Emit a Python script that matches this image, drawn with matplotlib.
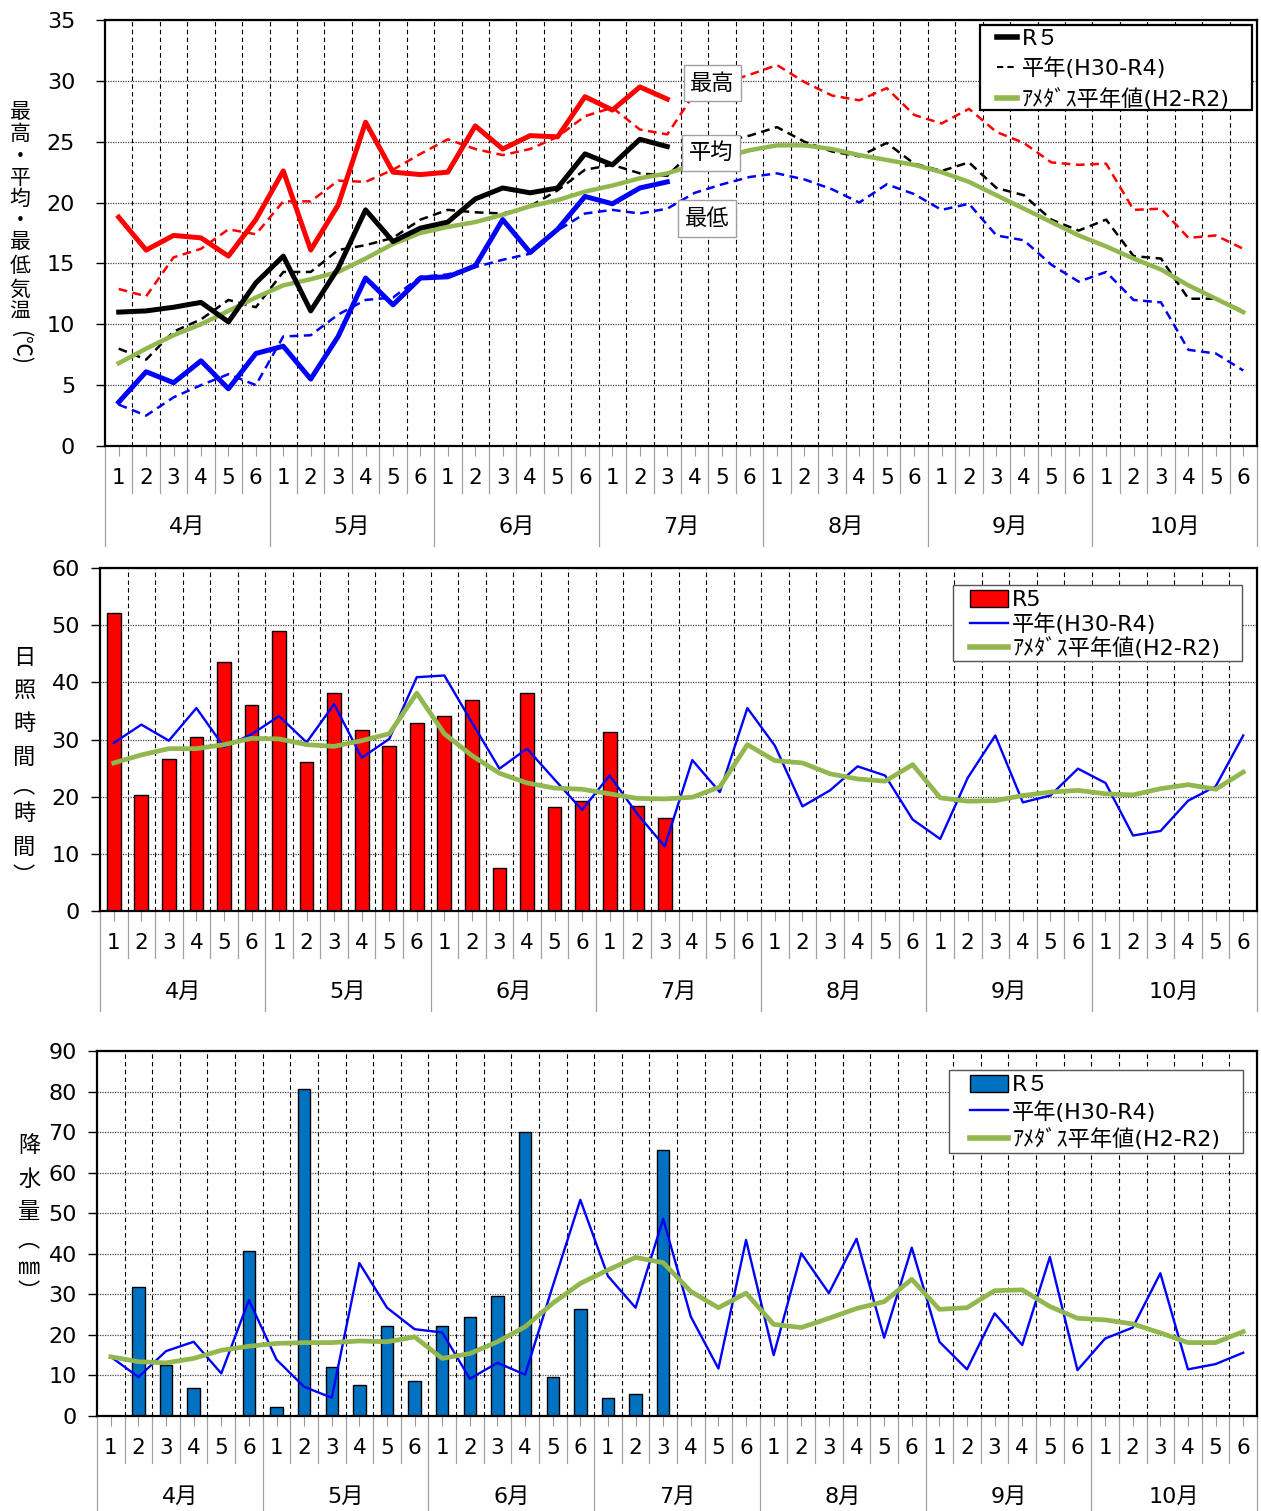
import matplotlib
matplotlib.use("Agg")

import matplotlib.pyplot as plt
import numpy as np
from matplotlib.lines import Line2D
from matplotlib.patches import Patch, Rectangle

plt.rcParams["font.family"] = ["DejaVu Sans", "Noto Sans CJK JP"]
JP = ["Noto Sans CJK JP", "DejaVu Sans"]

months = ["4月", "5月", "6月", "7月", "8月", "9月", "10月"]
pentads = ["1", "2", "3", "4", "5", "6"]

# temperature (℃)
temp_max_r5 = [18.8, 16.1, 17.3, 17.1, 15.6, 18.6, 22.6, 16.1, 19.8, 26.6, 22.5,
               22.3, 22.5, 26.3, 24.4, 25.5, 25.4, 28.7, 27.6, 29.5, 28.5]
temp_max_norm = [12.9, 12.3, 15.5, 16.2, 17.8, 17.4, 20.1, 20.1, 21.8, 21.7, 22.7,
                 24.0, 25.2, 24.4, 23.9, 24.4, 25.4, 27.1, 27.8, 26.0, 25.6, 29.0,
                 29.8, 30.5, 31.3, 29.9, 28.8, 28.4, 29.4, 27.2, 26.5, 27.7, 25.8,
                 24.9, 23.3, 23.1, 23.2, 19.4, 19.5, 17.1, 17.3, 16.2]
temp_mean_r5 = [11.0, 11.1, 11.4, 11.8, 10.2, 13.4, 15.6, 11.1, 14.6, 19.4, 16.8,
                17.9, 18.4, 20.3, 21.2, 20.8, 21.2, 24.0, 23.1, 25.2, 24.6]
temp_mean_norm = [8.0, 7.1, 9.4, 10.4, 12.0, 11.4, 14.3, 14.3, 16.1, 16.5, 17.1,
                  18.6, 19.4, 19.2, 19.1, 19.7, 21.0, 22.7, 23.1, 22.4, 22.2, 24.4,
                  25.0, 25.5, 26.2, 25.0, 24.2, 23.8, 24.9, 23.2, 22.6, 23.3, 21.2,
                  20.6, 18.6, 17.7, 18.6, 15.6, 15.4, 12.1, 12.1, 11.1]
temp_min_r5 = [3.6, 6.1, 5.2, 7.0, 4.7, 7.6, 8.2, 5.5, 9.0, 13.8, 11.6, 13.8, 13.9,
               14.8, 18.6, 15.9, 17.8, 20.5, 19.9, 21.2, 21.7]
temp_min_norm = [3.4, 2.5, 4.0, 5.0, 5.9, 5.0, 9.0, 9.1, 10.8, 12.0, 12.2, 13.9,
                 14.1, 14.7, 15.3, 15.8, 17.7, 19.1, 19.4, 19.1, 19.5, 20.8, 21.5,
                 22.1, 22.4, 21.9, 21.1, 20.0, 21.5, 20.7, 19.4, 19.9, 17.3, 16.9,
                 14.9, 13.5, 14.3, 12.0, 11.8, 7.9, 7.6, 6.2]
temp_amedas = [6.8, 8.0, 9.1, 10.0, 11.1, 12.2, 13.2, 13.7, 14.3, 15.4, 16.6, 17.5,
               18.0, 18.4, 19.0, 19.7, 20.2, 20.9, 21.4, 22.0, 22.4, 23.1, 23.7,
               24.3, 24.7, 24.7, 24.4, 23.9, 23.5, 23.1, 22.5, 21.7, 20.6, 19.5,
               18.4, 17.3, 16.4, 15.4, 14.5, 13.2, 12.1, 11.0]

# sunshine (hours)
sun_r5 = [52.1, 20.3, 26.6, 30.4, 43.5, 36.1, 48.9, 26.1, 38.2, 31.7, 28.8, 32.8,
          34.1, 36.9, 7.5, 38.1, 18.2, 19.2, 31.3, 18.3, 16.2]
sun_norm = [29.4, 32.6, 29.8, 35.5, 28.7, 30.9, 34.1, 29.5, 36.2, 26.8, 30.1, 40.9,
            41.2, 33.0, 24.9, 28.4, 23.0, 17.7, 23.7, 17.0, 11.3, 26.4, 20.8, 35.5,
            28.9, 18.3, 21.1, 25.3, 23.7, 16.0, 12.6, 23.3, 30.7, 19.0, 20.2, 24.9,
            22.4, 13.2, 14.0, 19.3, 21.8, 30.7]
sun_amedas = [25.9, 27.3, 28.4, 28.4, 29.1, 30.2, 30.1, 29.1, 28.8, 29.8, 31.0,
              38.1, 31.0, 27.2, 24.1, 22.4, 21.5, 21.3, 20.5, 19.7, 19.6, 19.9,
              21.7, 29.1, 26.3, 25.9, 24.0, 23.1, 22.7, 25.6, 19.8, 19.2, 19.3,
              20.2, 20.8, 21.1, 20.5, 20.3, 21.4, 22.1, 21.3, 24.3]

# precipitation (mm)
prec_r5 = [0, 31.7, 12.5, 7.0, 0, 40.8, 2.1, 80.7, 12.1, 7.6, 22.2, 8.6, 22.2,
           24.5, 29.7, 70.1, 9.6, 26.5, 4.5, 5.4, 65.7]
prec_norm = [14.6, 9.6, 16.0, 18.3, 10.5, 28.6, 13.9, 7.2, 4.5, 37.7, 26.7, 21.4,
             20.6, 9.2, 13.1, 10.2, 32.0, 53.3, 34.5, 26.7, 48.6, 24.5, 11.7, 43.4,
             15.0, 40.1, 30.3, 43.7, 19.3, 41.5, 18.3, 11.5, 25.3, 17.5, 39.2, 11.3,
             19.1, 21.8, 35.2, 11.5, 12.8, 15.6]
prec_amedas = [14.6, 13.4, 13.1, 14.2, 16.2, 17.2, 17.9, 18.1, 18.1, 18.5, 18.3,
               19.5, 14.2, 15.4, 18.3, 22.0, 27.8, 32.7, 36.0, 39.1, 37.8, 30.7,
               26.7, 30.3, 22.6, 21.8, 24.1, 26.5, 28.2, 33.7, 26.3, 26.7, 30.9,
               31.1, 27.0, 24.1, 23.7, 22.7, 20.5, 18.1, 18.1, 20.8]

GREEN = "#92B74E"
W, H = 1261, 1511
fig = plt.figure(figsize=(W / 100, H / 100), dpi=100)

n = len(months) * len(pentads)
x = np.arange(n)


def px_axes(left, top, right, bottom):
    ax = fig.add_axes([left / W, 1 - bottom / H, (right - left) / W, (bottom - top) / H])
    return ax, (left, top, right, bottom)


def setup(ax, box, ymax, ystep, ypad):
    h_px = box[3] - box[1]
    ax.set_xlim(-0.5, n - 0.5)
    ax.set_ylim(0, ymax)
    ax.set_yticks(np.arange(0, ymax + 1, ystep))
    ax.tick_params(axis="y", labelsize=16, length=6.5, width=1, pad=ypad)
    ax.set_xticks(x)
    ax.set_xticklabels([])
    ax.tick_params(axis="x", length=7, width=0.8, color="#999999")
    for s in ax.spines.values():
        s.set_linewidth(1.6)
    ax.set_axisbelow(True)
    ax.yaxis.grid(True, linestyle=(0, (1, 1)), color="#444444", linewidth=0.9)
    for b in x[:-1] + 0.5:
        ax.axvline(b, color="black", linestyle=(0, (4, 3)), linewidth=0.8, zorder=0.5)
    # two-level category axis
    tr = ax.get_xaxis_transform()
    f = 1.0 / h_px
    for i in x:
        ax.text(i, -32 * f, pentads[i % 6], transform=tr, ha="center", va="center",
                fontsize=15.5)
    for j, m in enumerate(months):
        ax.text(j * 6 + 2.5, -81 * f, m, transform=tr, ha="center", va="center",
                fontsize=16)
    for b in range(n + 1):
        depth = 100 if b % 6 == 0 else 47
        ax.plot([b - 0.5, b - 0.5], [0, -depth * f], transform=tr, color="#A0A0A0",
                lw=0.9, clip_on=False)


def legend_box(ax, box, handles, labels, frame_px, handle_px, top_px, hlen, spacing,
               ec, elw):
    # legend without frame, placed at the handle start; frame drawn as a rectangle
    l, t, r, b = box
    w, h = r - l, b - t
    fl, ft, fr, fb = frame_px
    ax.add_patch(Rectangle(((fl - l) / w, (b - fb) / h), (fr - fl) / w, (fb - ft) / h,
                           transform=ax.transAxes, fc="white", ec=ec, lw=elw,
                           zorder=6, clip_on=False))
    leg = ax.legend(handles, labels, loc="upper left",
                    bbox_to_anchor=((handle_px - l) / w, (b - top_px) / h),
                    borderaxespad=0, borderpad=0, fontsize=16, handlelength=hlen,
                    handleheight=0.8, handletextpad=0.2, labelspacing=spacing,
                    frameon=False)
    leg.set_zorder(7)


def vlabel(chars, xpx, ypx_list, size=15):
    for c, yp in zip(chars, ypx_list):
        fig.text(xpx / W, 1 - yp / H, c, ha="center", va="center", fontsize=size,
                 family=JP)


# ---- temperature ----
ax1, box1 = px_axes(105, 20, 1257, 446)
setup(ax1, box1, 35, 5, 15)
x_r5 = x[:len(temp_max_r5)]
dash = (0, (3.5, 2.2))
ax1.plot(x, temp_max_norm, color="red", lw=1.8, linestyle=dash)
ax1.plot(x, temp_mean_norm, color="black", lw=1.8, linestyle=dash)
ax1.plot(x, temp_min_norm, color="blue", lw=1.8, linestyle=dash)
ax1.plot(x, temp_amedas, color=GREEN, lw=3.2, solid_joinstyle="round")
ax1.plot(x_r5, temp_max_r5, color="red", lw=3.6, solid_joinstyle="round")
ax1.plot(x_r5, temp_mean_r5, color="black", lw=3.6, solid_joinstyle="round")
ax1.plot(x_r5, temp_min_r5, color="blue", lw=3.6, solid_joinstyle="round")

tbox = dict(boxstyle="square,pad=0.3", fc="white", ec="#A0A0A0", lw=1)
for lx, ly, s in [(21.65, 29.8, "最高"), (21.6, 24.1, "平均"), (21.45, 18.7, "最低")]:
    ax1.text(lx, ly, s, ha="center", va="center", fontsize=16, bbox=tbox, zorder=5,
             family=JP)

h_leg1 = [Line2D([], [], color="black", lw=4),
          Line2D([], [], color="black", lw=1.5, linestyle=(0, (3, 2))),
          Line2D([], [], color=GREEN, lw=4)]
legend_box(ax1, box1, h_leg1, ["R５", "平年(H30-R4)", "ｱﾒﾀﾞｽ平年値(H2-R2)"],
           (980, 25, 1252, 110), 997, 29, 0.9, 0.38, "black", 1.6)

vlabel(list("最高・平均・最低気温"), 20,
       [112, 134, 157, 178, 199, 221, 242, 266, 290, 312])
fig.text(20 / W, 1 - 347 / H, "(℃)", rotation=-90, ha="center", va="center",
         fontsize=15, family=JP)

# ---- sunshine ----
ax2, box2 = px_axes(100, 568, 1257, 911)
setup(ax2, box2, 60, 10, 8)
ax2.bar(x[:len(sun_r5)], sun_r5, width=0.5, color="#FF0000", edgecolor="black",
        linewidth=1, zorder=2)
ax2.plot(x, sun_norm, color="#0000FF", lw=1.7, zorder=3)
ax2.plot(x, sun_amedas, color=GREEN, lw=3.4, solid_joinstyle="round", zorder=3)
h_leg2 = [Patch(fc="#FF0000", ec="black", lw=1),
          Line2D([], [], color="#0000FF", lw=1.7),
          Line2D([], [], color=GREEN, lw=4)]
legend_box(ax2, box2, h_leg2, ["R5", "平年(H30-R4)", "ｱﾒﾀﾞｽ平年値(H2-R2)"],
           (953, 585, 1242, 661), 970, 590, 1.7, 0.12, "#555555", 1.0)

vlabel(list("日照時間︵時間︶"), 24, [657, 690, 723, 757, 786, 813, 847, 877], size=16)

# ---- precipitation ----
ax3, box3 = px_axes(97, 1051, 1257, 1416)
setup(ax3, box3, 90, 10, 8)
ax3.bar(x[:len(prec_r5)], prec_r5, width=0.45, color="#0070C0", edgecolor="black",
        linewidth=1, zorder=2)
ax3.plot(x, prec_norm, color="#0000FF", lw=1.7, zorder=3)
ax3.plot(x, prec_amedas, color=GREEN, lw=3.4, solid_joinstyle="round", zorder=3)
h_leg3 = [Patch(fc="#0070C0", ec="black", lw=1),
          Line2D([], [], color="#0000FF", lw=1.7),
          Line2D([], [], color=GREEN, lw=4)]
legend_box(ax3, box3, h_leg3, ["R５", "平年(H30-R4)", "ｱﾒﾀﾞｽ平年値(H2-R2)"],
           (949, 1070, 1243, 1153), 970, 1075, 1.7, 0.25, "#555555", 1.0)

vlabel(list("降水量︵㎜︶"), 29, [1145, 1179, 1212, 1240, 1268, 1292], size=16)

fig.savefig("out.png", dpi=100)
plt.close(fig)
